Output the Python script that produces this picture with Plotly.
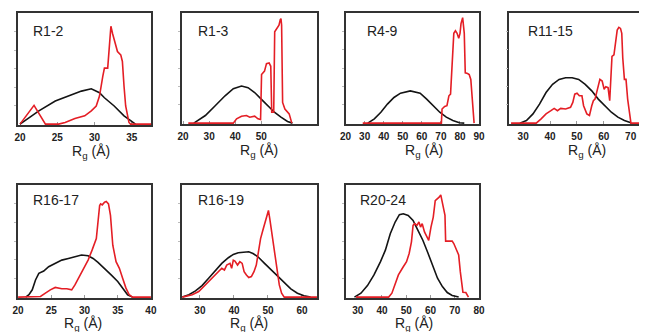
import plotly.graph_objects as go

# ---------------- data (Rg in Å, normalized probability) ----------------
panel_names = ["R1-2", "R1-3", "R4-9", "R11-15", "R16-17", "R16-19", "R20-24"]

r12_black_x = [20.0, 22.53, 24.73, 26.92, 28.24, 29.56, 30.66, 31.32, 32.63, 33.95, 35.05, 35.49]
r12_black_y = [0, 0.119, 0.208, 0.267, 0.297, 0.318, 0.282, 0.237, 0.163, 0.074, 0.015, 0]
r12_red_x = [20.0, 21.88, 23.41, 25.17, 26.05, 27.36, 28.68, 29.56, 30.22, 30.66, 31.1, 31.32, 31.76,
             31.98, 32.19, 32.41, 32.63, 33.07, 33.51, 33.73, 33.95, 34.17, 34.61, 34.83, 37.6]
r12_red_y = [0, 0.169, 0, 0, 0.015, 0.05, 0.074, 0.119, 0.163, 0.252, 0.43, 0.504, 0.504,
             0.668, 0.881, 0.816, 0.757, 0.653, 0.623, 0.564, 0.341, 0.163, 0.015, 0, 0]

r13_black_x = [24.12, 24.75, 28.54, 32.32, 36.1, 39.26, 42.41, 44.93, 47.45, 49.97, 52.49, 55.01, 57.54, 60.06, 61.95]
r13_black_y = [0, 0.009, 0.069, 0.158, 0.248, 0.313, 0.337, 0.322, 0.278, 0.218, 0.158, 0.099, 0.054, 0.015, 0]
r13_red_x = [22.0, 39.26, 40.52, 42.41, 44.3, 45.56, 47.45, 48.71, 49.72, 50.1, 51.23, 51.99, 53.0,
             53.63, 54.0, 54.76, 55.14, 56.02, 56.78, 57.29, 57.54, 57.79, 58.17, 59.05, 60.69, 61.7]
r13_red_y = [0, 0, 0.039, 0.063, 0.069, 0.054, 0.063, 0.039, 0.033, 0.442, 0.472, 0.54, 0.546,
             0.516, 0.099, 0.099, 0.83, 0.869, 0.89, 0.94, 0.949, 0.89, 0.188, 0.128, 0.084, 0]

r49_black_x = [31.66, 35.09, 38.52, 41.96, 45.39, 48.82, 53.96, 59.11, 62.54, 65.97, 69.4, 72.83, 76.26, 79.69, 82.26]
r49_black_y = [0, 0.039, 0.099, 0.173, 0.233, 0.272, 0.293, 0.272, 0.218, 0.158, 0.099, 0.054, 0.024, 0.003, 0]
r49_red_x = [29.0, 70.26, 70.6, 71.97, 73.17, 74.2, 75.06, 75.4, 76.26, 76.77, 77.63, 78.49, 79.35,
             80.03, 80.55, 81.41, 82.26, 82.78, 83.98, 84.84, 85.69, 86.55, 87.41]
r49_red_y = [0, 0, 0.128, 0.152, 0.158, 0.248, 0.263, 0.397, 0.606, 0.815, 0.839, 0.815, 0.77,
             0.815, 0.904, 0.958, 0.815, 0.457, 0.451, 0.442, 0.397, 0.218, 0]

r1115_black_x = [28.79, 31.22, 33.65, 36.08, 38.51, 40.94, 43.37, 45.8, 48.23, 50.66, 53.09, 55.52,
                 57.95, 60.38, 62.81, 65.24, 67.67, 70.1]
r1115_black_y = [0, 0.024, 0.084, 0.173, 0.278, 0.352, 0.397, 0.412, 0.412, 0.397, 0.352, 0.293,
                 0.218, 0.158, 0.099, 0.054, 0.024, 0.003]
r1115_red_x = [25.5, 34.86, 36.68, 38.51, 40.33, 41.54, 42.76, 43.97, 45.8, 47.62, 48.47, 49.2, 50.05,
               50.9, 51.87, 52.48, 53.69, 54.67, 55.52, 56.12, 56.73, 57.7, 58.55, 59.4, 60.13, 60.74,
               61.59, 62.2, 62.56, 63.05, 63.78, 64.39, 64.99, 65.6, 66.21, 66.69, 67.06, 67.67, 68.27,
               68.88, 69.73, 70.1, 73.1]
r1115_red_y = [0, 0, 0.039, 0.084, 0.113, 0.134, 0.113, 0.134, 0.128, 0.143, 0.188, 0.263, 0.272,
               0.248, 0.248, 0.158, 0.084, 0.069, 0.158, 0.203, 0.218, 0.322, 0.397, 0.382, 0.307, 0.331,
               0.322, 0.203, 0.337, 0.606, 0.621, 0.725, 0.845, 0.869, 0.86, 0.815, 0.591, 0.397, 0.397,
               0.218, 0.024, 0, 0]

r1617_black_x = [21.14, 21.63, 22.13, 22.62, 23.12, 23.86, 24.6, 25.59, 26.58, 27.57, 28.56, 29.55,
                 30.54, 31.29, 32.03, 33.02, 34.01, 35.0, 35.74, 36.49, 37.23]
r1617_black_y = [0, 0.021, 0.065, 0.153, 0.212, 0.233, 0.271, 0.301, 0.33, 0.345, 0.36, 0.375,
                 0.369, 0.345, 0.31, 0.257, 0.198, 0.139, 0.08, 0.021, 0]
r1617_red_x = [20.0, 23.37, 24.11, 24.85, 25.59, 26.58, 27.33, 28.07, 28.56, 29.06, 29.8, 30.54, 31.14,
               31.78, 32.28, 32.43, 32.67, 33.02, 33.27, 33.61, 33.91, 34.26, 34.75, 35.25, 35.74, 36.24,
               36.73, 37.23, 40.0]
r1617_red_y = [0, 0.006, 0.035, 0.065, 0.086, 0.074, 0.074, 0.065, 0.109, 0.168, 0.242, 0.33, 0.419,
               0.522, 0.817, 0.832, 0.823, 0.847, 0.853, 0.832, 0.729, 0.463, 0.316, 0.257, 0.168, 0.08,
               0.021, 0, 0]

r1619_black_x = [24.83, 26.77, 28.7, 30.63, 32.56, 34.49, 36.43, 38.36, 39.81, 41.26, 43.19, 44.35,
                 45.6, 47.05, 48.99, 50.92, 52.85, 54.78, 56.71, 58.65, 60.58, 62.51]
r1619_black_y = [0, 0.021, 0.056, 0.103, 0.168, 0.233, 0.301, 0.351, 0.381, 0.395, 0.398, 0.404,
                 0.389, 0.36, 0.301, 0.242, 0.183, 0.124, 0.074, 0.035, 0.012, 0]
r1619_red_x = [24.83, 27.73, 29.66, 31.6, 33.04, 34.49, 35.46, 36.43, 37.2, 37.88, 38.84, 39.33, 39.81,
               40.29, 41.06, 41.74, 42.42, 42.99, 43.67, 44.35, 45.12, 45.89, 46.57, 47.05, 47.83, 48.5,
               49.18, 49.76, 50.14, 50.53, 51.21, 51.88, 52.66, 53.33, 54.01, 54.78, 64.4]
r1619_red_y = [0, 0.021, 0.05, 0.109, 0.153, 0.198, 0.227, 0.257, 0.242, 0.286, 0.301, 0.257, 0.33,
               0.322, 0.286, 0.316, 0.301, 0.227, 0.198, 0.174, 0.183, 0.227, 0.286, 0.375, 0.522, 0.596,
               0.67, 0.743, 0.773, 0.699, 0.566, 0.434, 0.257, 0.109, 0.035, 0, 0]

r2024_black_x = [28.66, 31.34, 34.03, 36.71, 39.4, 41.41, 43.42, 45.44, 47.18, 48.79, 50.81, 52.82,
                 54.83, 56.85, 58.86, 60.87, 62.89, 64.9, 66.91, 68.93, 71.61]
r2024_black_y = [0, 0.035, 0.103, 0.198, 0.316, 0.419, 0.566, 0.67, 0.735, 0.743, 0.729, 0.684,
                 0.596, 0.507, 0.398, 0.286, 0.168, 0.094, 0.041, 0.015, 0]
r2024_red_x = [29.33, 42.75, 44.09, 45.44, 46.78, 48.79, 50.13, 51.21, 52.15, 52.82, 53.49, 54.43,
               55.23, 55.91, 56.58, 57.52, 58.46, 59.26, 60.2, 61.14, 61.95, 62.89, 63.56, 64.23, 64.9,
               65.57, 65.97, 66.24, 67.58, 68.93, 69.6, 70.94, 71.61, 72.28, 72.95, 73.36, 74.56, 75.64]
r2024_red_y = [0, 0, 0.035, 0.109, 0.198, 0.271, 0.316, 0.389, 0.493, 0.64, 0.655, 0.64,
               0.67, 0.625, 0.655, 0.581, 0.537, 0.507, 0.625, 0.714, 0.861, 0.876, 0.891, 0.912, 0.847,
               0.773, 0.729, 0.499, 0.499, 0.499, 0.478, 0.41, 0.375, 0.227, 0.109, 0.044, 0.041, 0]

black_series = [(r12_black_x, r12_black_y), (r13_black_x, r13_black_y), (r49_black_x, r49_black_y),
                (r1115_black_x, r1115_black_y), (r1617_black_x, r1617_black_y),
                (r1619_black_x, r1619_black_y), (r2024_black_x, r2024_black_y)]
red_series = [(r12_red_x, r12_red_y), (r13_red_x, r13_red_y), (r49_red_x, r49_red_y),
              (r1115_red_x, r1115_red_y), (r1617_red_x, r1617_red_y),
              (r1619_red_x, r1619_red_y), (r2024_red_x, r2024_red_y)]

x_ranges = [[19.7, 37.6], [19.46, 71.4], [20, 90], [24.9, 73.1], [19.95, 40.05], [24.64, 64.44], [25, 80]]
x_ticks = [[20, 25, 30, 35], [20, 30, 40, 50], [20, 30, 40, 50, 60, 70, 80, 90], [30, 40, 50, 60, 70],
           [20, 25, 30, 35, 40], [30, 40, 50, 60], [30, 40, 50, 60, 70, 80]]
y_ticks = [1 / 6, 2 / 6, 3 / 6, 4 / 6, 5 / 6]

# ---------------- layout geometry (pixels) ----------------
W, H = 645, 332
boxes_px = [(12, 148, 13, 125), (179, 317, 13, 124), (346, 482, 13, 124), (513, 645, 13, 124),
            (12, 148, 185, 298), (179, 317, 185, 298), (346, 482, 185, 298)]
title_pos = [(0.105, 0.84), (0.11, 0.84), (0.155, 0.84), (0.135, 0.84),
             (0.105, 0.87), (0.11, 0.865), (0.1, 0.87)]
xlabel_pos = [0.55, 0.57, 0.59, 0.6, 0.49, 0.5, 0.51]
xlabel_gap = [26.5, 26.5, 26.5, 26.5, 25.5, 25.5, 25.5]

RED = "#e41e25"
BLACK = "#141414"
FONT = "Liberation Sans, Arial, sans-serif"

fig = go.Figure()
layout = dict(width=W, height=H, margin=dict(l=0, r=0, t=0, b=0),
              paper_bgcolor="white", plot_bgcolor="white", showlegend=False,
              annotations=[])

for i in range(7):
    n = i + 1
    xa = "x" if n == 1 else f"x{n}"
    ya = "y" if n == 1 else f"y{n}"
    l, r, t, b = boxes_px[i]
    bx, by = black_series[i]
    rx, ry = red_series[i]
    fig.add_trace(go.Scatter(x=bx, y=by, mode="lines", line=dict(color=BLACK, width=1.6),
                             xaxis=xa, yaxis=ya, hoverinfo="skip"))
    fig.add_trace(go.Scatter(x=rx, y=ry, mode="lines", line=dict(color=RED, width=1.6),
                             xaxis=xa, yaxis=ya, hoverinfo="skip"))
    layout[f"xaxis{n}"] = dict(domain=[l / W, r / W], range=x_ranges[i], anchor=ya,
                               tickvals=x_ticks[i], ticktext=[str(v) for v in x_ticks[i]],
                               showgrid=False, zeroline=False, showline=True, mirror=True,
                               linecolor="#333333", linewidth=1.5,
                               ticks="inside", ticklen=3, tickcolor="#9a9a9a", tickwidth=1,
                               tickfont=dict(family=FONT, size=10, color="#222222", weight="bold"),
                               ticklabelstandoff=2, layer="below traces")
    layout[f"yaxis{n}"] = dict(domain=[1 - b / H, 1 - t / H], range=[-0.008, 1.0], anchor=xa,
                               tickvals=y_ticks, showticklabels=False, ticks="outside", ticklen=2,
                               tickcolor="#bbbbbb", tickwidth=1,
                               showgrid=False, zeroline=False, showline=True,
                               mirror=(n != 4), linecolor="#333333", linewidth=1.5,
                               layer="below traces")
    tx, ty = title_pos[i]
    layout["annotations"].append(dict(text=panel_names[i], xref=f"{xa} domain", yref=f"{ya} domain",
                                      x=tx, y=ty, xanchor="left", yanchor="middle", showarrow=False,
                                      borderpad=0,
                                      font=dict(family=FONT, size=14, color="#222222")))
    label_y = 1 - (b + xlabel_gap[i]) / H
    layout["annotations"].append(dict(text="R<sub>g</sub> (Å)", xref=f"{xa} domain", yref="paper",
                                      x=xlabel_pos[i], y=label_y, xanchor="center", yanchor="middle",
                                      showarrow=False, borderpad=0,
                                      font=dict(family=FONT, size=14, color="#222222")))

fig.update_layout(**layout)
fig.write_html("out.html", config={"displayModeBar": False},
               post_script="document.body.style.margin='0px';document.body.style.overflow='hidden';")
